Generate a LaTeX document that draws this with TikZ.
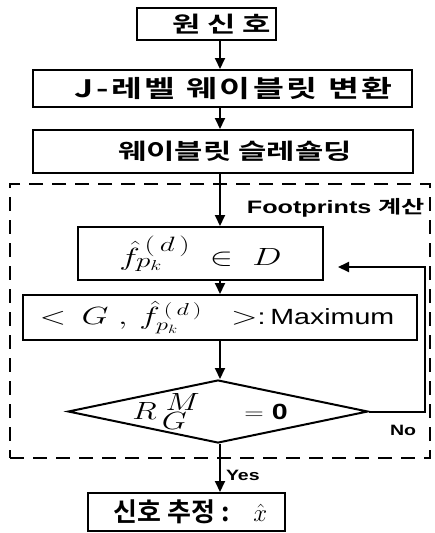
\documentclass[tikz,border=0pt]{standalone}
\usepackage{fontspec}
\usepackage{graphicx}
\usetikzlibrary{shapes.geometric,arrows.meta}
\newfontfamily\kr{Noto Sans CJK KR Bold}
\newfontfamily\krw{Noto Sans CJK KR Bold}[LetterSpace=8]
\newfontfamily\ls{Liberation Sans}
\newfontfamily\lsb{Liberation Sans Bold}
\newcommand\wx[1]{\scalebox{1.4}[1]{#1}}
\begin{document}
\begin{tikzpicture}[x=1pt,y=-1pt,
  box/.style={draw, line width=2pt, inner sep=0pt},
  arr/.style={line width=2pt, -{Triangle[length=11pt,width=10pt]}},
  grp/.style={draw, line width=2pt, dash pattern=on 14pt off 9pt, inner sep=0pt},
  lab/.style={inner sep=0pt, font=\lsb\fontsize{15}{17}\selectfont}]
\useasboundingbox (0,0) rectangle (435,533);
\coordinate (m) at (220,0);
\node[grp, minimum width=420pt, minimum height=274pt] (g) at (220,321) {};
\node[box, minimum width=139pt, minimum height=32pt] (b1) at (206.5,24)
  {\hspace*{30pt}\fontsize{22}{26}\selectfont\wx{\kr 원 신 호}};
\node[box, minimum width=379pt, minimum height=37pt] (b2) at (222.5,88.5)
  {\hspace*{22pt}\fontsize{24}{28}\selectfont\wx{\krw J-레벨 웨이블릿 변환}};
\node[box, minimum width=380pt, minimum height=43pt] (b3) at (223,151.5)
  {\hspace*{24pt}\fontsize{22}{26}\selectfont\wx{\kr 웨이블릿 슬레숄딩}};
\node[anchor=base east, inner sep=0pt] (ft) at (425,213)
  {\fontsize{18}{20}\selectfont\wx{\lsb Footprints \kr 계산}};
\node[box, minimum width=245pt, minimum height=53pt] (b4) at (200.5,253.5)
  {\fontsize{28}{32}\selectfont\wx{$\hat{f}^{\,(\,d\,)}_{p_{k}}\;\in\;D$}};
\node[box, minimum width=394pt, minimum height=45pt] (b5) at (220,317.5)
  {\hspace*{-6pt}\fontsize{24}{28}\selectfont\wx{$<\,G\;,\,\hat{f}^{\,(\,d\,)}_{p_{k}}\;\;>$}{\fontsize{22}{26}\selectfont\scalebox{1.3}[1]{\ls :\,Maximum}}};
\node[draw, diamond, line width=2pt, inner sep=0pt, minimum width=300pt, minimum height=63pt] (d) at (218,411.5) {};
\node[inner sep=0pt] (dt) at (210,411.5)
  {\fontsize{34}{38}\selectfont\scalebox{1.3}[1]{$R^{\;M}_{\,G}$\quad{\fontsize{22}{26}\selectfont$=$\;{\lsb 0}}}};
\node[box, minimum width=197pt, minimum height=38pt] (b6) at (186.5,512)
  {\hspace*{8pt}\fontsize{26}{30}\selectfont{\kr 신호 추정 :}\ \ \ {\fontsize{38}{40}\selectfont$\hat{x}$}};
\coordinate (fb) at (425,267);
\draw[arr] (b1.south -| m) -- (b2.north -| m);
\draw[arr] (b2.south -| m) -- (b3.north -| m);
\draw[arr] (b3.south -| m) -- (b4.north -| m);
\draw[arr] (b4.south -| m) -- (b5.north -| m);
\draw[arr] (b5.south -| m) -- (d.north -| m);
\draw[arr] (d.south -| m) -- node[lab, right=5pt, pos=0.66] (yes) {\scalebox{1.3}[1]{Yes}} (b6.north -| m);
\draw[arr] (d.east) -| (fb) -- ([xshift=14pt]b4.east |- fb);
\node[lab] (no) at (403,430) {\scalebox{1.3}[1]{No}};
\end{tikzpicture}
\end{document}
